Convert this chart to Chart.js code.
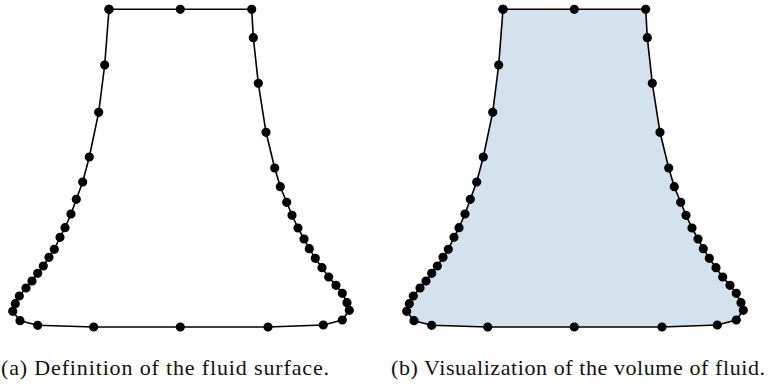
<!DOCTYPE html>
<html>
<head>
<meta charset="utf-8">
<script src="https://cdn.jsdelivr.net/npm/chart.js@4.4.1/dist/chart.umd.min.js"></script>
<style>
  html, body { margin: 0; padding: 0; background: #fff; }
  body { width: 768px; height: 387px; position: relative; overflow: hidden; }
  .panel { position: absolute; top: 0; width: 360px; height: 340px; }
  .caption { position: absolute; top: 355px; font-family: "Liberation Serif", "DejaVu Serif", serif;
             font-size: 22px; color: #111; white-space: nowrap; }
</style>
</head>
<body>
<div class="panel" style="left:0px"><canvas id="surfaceChart"></canvas></div>
<div class="panel" style="left:394px"><canvas id="volumeChart"></canvas></div>
<div class="caption" id="capA" style="left:1px"></div>
<div class="caption" id="capB" style="left:391px"></div>
<script>
// Surface points (x from centre, y above the bottom), traversed clockwise from the top-left corner
const surfX = [-71.3, 0, 71.4, 73, 78, 85.7, 94.4, 100, 106.4, 111.7, 117.7, 123.7, 129,
  135, 141.7, 148.4, 155.7, 162, 166.7, 169, 162, 143, 87.7, 0, -86.6, -142.6, -160.3, -167.6,
  -165, -161, -154.3, -148.3, -142.6, -137, -131.3, -126, -120.3, -115.3, -109.3, -104, -97.6,
  -91, -81.6, -75.6, -71.3];
const surfY = [317.7, 317.7, 317.7, 289.3, 243.7, 194.7, 159, 140.3, 124.7, 111.7, 99, 88,
  78.3, 68.7, 59.3, 50, 41.7, 33.7, 24.3, 16.7, 7, 2, 0, 0, 0, 1.7, 6.3, 15.7,
  23.3, 31, 39, 46, 53.7, 61, 69.7, 77.7, 89.7, 99.3, 113, 127.7, 145,
  170, 214.7, 262, 317.7];

const captions = ['(a) Definition of the fluid surface.', '(b) Visualization of the volume of fluid.'];

function makeChart(id, filled) {
  const pts = surfX.map((x, i) => ({ x: x, y: surfY[i] }));
  return new Chart(document.getElementById(id), {
    type: 'scatter',
    data: {
      datasets: [{
        data: pts,
        showLine: true,
        tension: 0,
        borderColor: '#000',
        borderWidth: 1.6,
        pointBackgroundColor: '#000',
        pointBorderColor: '#000',
        pointRadius: 3.8,
        pointHoverRadius: 3.8,
        fill: filled ? 'shape' : false,
        backgroundColor: '#d4e2ed',
        clip: false
      }]
    },
    options: {
      responsive: true,
      maintainAspectRatio: false,
      animation: false,
      layout: { padding: 0, autoPadding: false },
      scales: {
        x: { type: 'linear', display: false, min: -180.3, max: 179.7 },
        y: { type: 'linear', display: false, min: -13, max: 327 }
      },
      plugins: {
        legend: { display: false },
        tooltip: { enabled: false },
        filler: { propagate: false }
      }
    }
  });
}

makeChart('surfaceChart', false);
makeChart('volumeChart', true);

// stretch the captions to the width of the original (wider) typeface
function setCaption(id, text, width) {
  const el = document.getElementById(id);
  el.textContent = text;
  const natural = el.getBoundingClientRect().width;
  el.style.letterSpacing = ((width - natural) / (text.length - 1)) + 'px';
}
setCaption('capA', captions[0], 328);
setCaption('capB', captions[1], 374);
</script>
</body>
</html>
